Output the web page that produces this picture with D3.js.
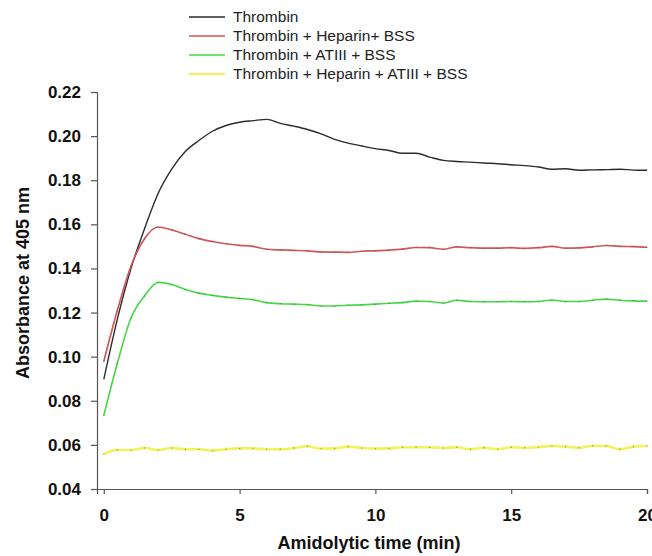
<!DOCTYPE html>
<html>
<head>
<meta charset="utf-8">
<script src="https://cdn.jsdelivr.net/npm/d3@7/dist/d3.min.js"></script>
<style>
  html, body { margin: 0; padding: 0; background: #fff; }
  svg { display: block; }
  text { font-family: "Liberation Sans", Arial, sans-serif; }
</style>
</head>
<body>
<svg id="chart" width="652" height="556"></svg>
<script>
// ---- data (time step 0.5 min, 0..20) ----
const times = d3.range(0, 20.01, 0.5);

const seriesNames = [
  "Thrombin",
  "Thrombin + Heparin+ BSS",
  "Thrombin + ATIII + BSS",
  "Thrombin + Heparin + ATIII + BSS"
];

const thrombin = [
  0.0897, 0.117, 0.140, 0.158, 0.174, 0.185, 0.193, 0.198, 0.2022, 0.2048,
  0.2063, 0.2070, 0.2076, 0.2058, 0.2045, 0.2030, 0.2010, 0.1985, 0.1968, 0.1955,
  0.1943, 0.1935, 0.1922, 0.1922, 0.1905, 0.1890, 0.1885, 0.1882, 0.1878, 0.1875,
  0.1870, 0.1866, 0.1860, 0.1850, 0.1852, 0.1845, 0.1847, 0.1848, 0.1850, 0.1846,
  0.1845
];

const thrombinHeparin = [
  0.0978, 0.121, 0.141, 0.1535, 0.1588, 0.1575, 0.1555, 0.1535, 0.1522, 0.1512,
  0.1505, 0.1500, 0.1487, 0.1484, 0.1482, 0.1480, 0.1475, 0.1474, 0.1473, 0.1478,
  0.1480, 0.1483, 0.1488, 0.1495, 0.1494, 0.1487, 0.1498, 0.1494, 0.1492, 0.1492,
  0.1494, 0.1491, 0.1494, 0.1500, 0.1492, 0.1493, 0.1498, 0.1504, 0.1500, 0.1499,
  0.1496
];

const thrombinATIII = [
  0.0733, 0.097, 0.1175, 0.1275, 0.1337, 0.1327, 0.1305, 0.1288, 0.1278, 0.1270,
  0.1264, 0.1258, 0.1245, 0.1240, 0.1238, 0.1236, 0.1230, 0.1230, 0.1233, 0.1235,
  0.1238, 0.1242, 0.1245, 0.1252, 0.1250, 0.1243, 0.1256, 0.1250, 0.1249, 0.1249,
  0.1250, 0.1249, 0.1250, 0.1257, 0.1250, 0.1250, 0.1256, 0.1261, 0.1256, 0.1253,
  0.1252
];

const thrombinHeparinATIII = [
  0.0559, 0.0577, 0.0577, 0.0586, 0.0577, 0.0586, 0.0580, 0.0580, 0.0574, 0.0580,
  0.0584, 0.0584, 0.0580, 0.0580, 0.0586, 0.0594, 0.0583, 0.0584, 0.0592, 0.0586,
  0.0583, 0.0584, 0.0589, 0.0589, 0.0589, 0.0586, 0.0589, 0.0580, 0.0587, 0.0581,
  0.0589, 0.0587, 0.0590, 0.0595, 0.0592, 0.0587, 0.0596, 0.0595, 0.0580, 0.0592,
  0.0595
];

const xTicks = [0, 5, 10, 15, 20];
const yTicks = [0.04, 0.06, 0.08, 0.10, 0.12, 0.14, 0.16, 0.18, 0.20, 0.22];

// ---- styling ----
const styles = [
  { color: "#2b2b2b", width: 1.4, dots: false },
  { color: "#d0585c", width: 1.7, dots: true },
  { color: "#44d844", width: 1.6, dots: true },
  { color: "#f2f25a", width: 2.6, dots: true }
];
const allSeries = [thrombin, thrombinHeparin, thrombinATIII, thrombinHeparinATIII];

const svg = d3.select("#chart");

const x = d3.scaleLinear().domain([-0.25, 20]).range([97, 647]);
const y = d3.scaleLinear().domain([0.04, 0.22]).range([489, 92]);

// axes
const yAxis = d3.axisLeft(y).tickValues(yTicks).tickFormat(d3.format(".2f")).tickSizeOuter(0).tickSize(6).tickPadding(10);
const xAxis = d3.axisBottom(x).tickValues(xTicks).tickFormat(d3.format("d")).tickSizeOuter(0).tickSize(5).tickPadding(15);

const gy = svg.append("g").attr("transform", `translate(${x(-0.25)},0)`).call(yAxis);
const gx = svg.append("g").attr("transform", `translate(0,${y(0.04)})`).call(xAxis);

[gx, gy].forEach(g => {
  g.select(".domain").attr("stroke", "#555").attr("stroke-width", 1.2);
  g.selectAll(".tick line").attr("stroke", "#555").attr("stroke-width", 1.2);
  g.selectAll(".tick text")
    .attr("fill", "#111")
    .style("font-size", "17px")
    .style("font-weight", "bold")
    .style("font-family", "'Liberation Sans', Arial, sans-serif");
});

// lines
const line = d3.line()
  .x((d, i) => x(times[i]))
  .y(d => y(d))
  .curve(d3.curveMonotoneX);

allSeries.forEach((s, k) => {
  svg.append("path")
    .datum(s)
    .attr("fill", "none")
    .attr("stroke", styles[k].color)
    .attr("stroke-width", styles[k].width)
    .attr("stroke-linejoin", "round")
    .attr("d", line);
  if (styles[k].dots) {
    svg.append("g").selectAll("circle")
      .data(s)
      .join("circle")
      .attr("cx", (d, i) => x(times[i]))
      .attr("cy", d => y(d))
      .attr("r", 0.7)
      .attr("fill", "#555")
      .attr("opacity", 0.6);
  }
});

// legend
const legend = svg.append("g");
seriesNames.forEach((name, k) => {
  const ly = 17 + k * 19;
  legend.append("line")
    .attr("x1", 189).attr("x2", 225)
    .attr("y1", ly).attr("y2", ly)
    .attr("stroke", styles[k].color)
    .attr("stroke-width", k === 3 ? 2.2 : 1.6);
  legend.append("text")
    .attr("x", 233).attr("y", ly)
    .attr("dy", "0.35em")
    .attr("fill", "#222")
    .style("font-size", "15.5px")
    .text(name);
});

// axis titles
svg.append("text")
  .attr("x", 369).attr("y", 549)
  .attr("text-anchor", "middle")
  .attr("fill", "#111")
  .style("font-size", "18px")
  .style("font-weight", "bold")
  .text("Amidolytic time (min)");

svg.append("text")
  .attr("transform", "translate(29,283) rotate(-90)")
  .attr("text-anchor", "middle")
  .attr("fill", "#111")
  .style("font-size", "18px")
  .style("font-weight", "bold")
  .text("Absorbance at 405 nm");
</script>
</body>
</html>
